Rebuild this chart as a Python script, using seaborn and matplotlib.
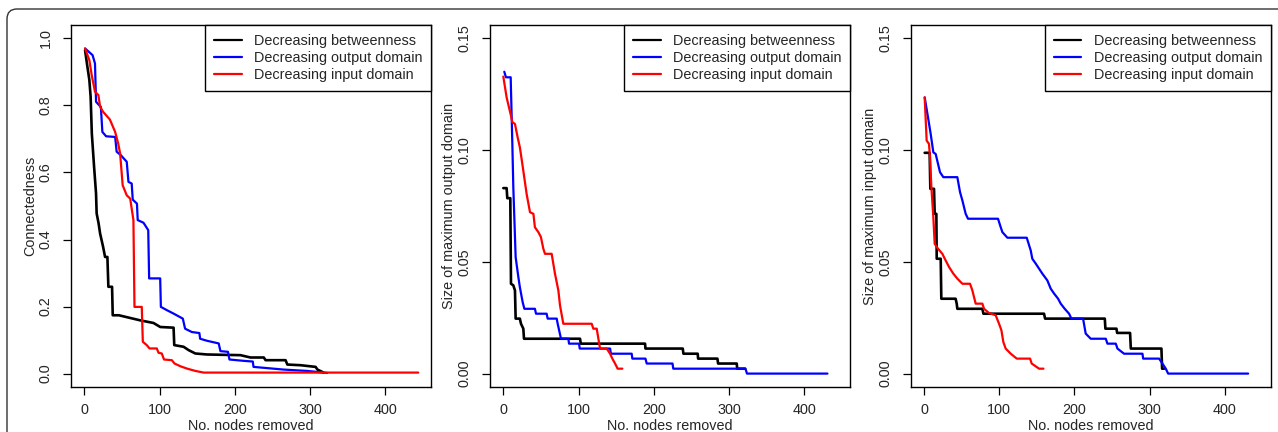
import pandas as pd
import seaborn as sns
import matplotlib.pyplot as plt
from matplotlib.lines import Line2D
from matplotlib.patches import FancyBboxPatch
from matplotlib.transforms import IdentityTransform

# series names and colours
series = ["Decreasing betweenness", "Decreasing output domain", "Decreasing input domain"]
colors = ["black", "blue", "red"]

# panel 1: connectedness
conn_btw_x = [1, 4, 6.7, 8.4, 10, 13, 15.6, 16.4, 19, 21, 25, 27.6, 30.7, 32, 36.9, 37.8, 46, 74, 92, 101,
              118.7, 119.6, 132, 138.7, 147.6, 163, 207.6, 221, 238.7, 241, 267.6, 270, 287.6, 307.6, 310,
              316.4, 318]
conn_btw_y = [0.965, 0.917, 0.876, 0.826, 0.716, 0.617, 0.537, 0.478, 0.448, 0.418, 0.378, 0.348, 0.348,
              0.259, 0.259, 0.174, 0.174, 0.159, 0.151, 0.139, 0.137, 0.085, 0.080, 0.070, 0.060, 0.057,
              0.055, 0.048, 0.048, 0.040, 0.040, 0.027, 0.025, 0.020, 0.012, 0.005, 0.003]
conn_out_x = [1, 11, 14.2, 15.6, 19.6, 22, 24, 29, 41, 43, 48.4, 56.4, 58.7, 63, 64.4, 70, 71, 78.7, 85,
              86.2, 100.9, 101.8, 110, 118.7, 131, 134, 143, 153, 154, 163, 178.7, 181, 191, 193, 212,
              224, 225, 265, 296, 323]
conn_out_y = [0.970, 0.950, 0.925, 0.811, 0.801, 0.796, 0.721, 0.708, 0.706, 0.662, 0.652, 0.632, 0.572,
              0.567, 0.519, 0.507, 0.458, 0.450, 0.428, 0.284, 0.284, 0.199, 0.189, 0.179, 0.164, 0.134,
              0.124, 0.121, 0.104, 0.098, 0.090, 0.067, 0.065, 0.042, 0.038, 0.036, 0.020, 0.012, 0.008,
              0.002]
conn_in_x = [1, 6.7, 9.8, 14.2, 18.7, 21, 25, 34, 41, 45, 47.6, 51, 56.4, 61, 65.3, 66.7, 76.4, 77.8, 83,
             86.7, 96.4, 98.7, 103, 106, 116.4, 120, 127.6, 136.4, 147.6, 158.7, 444]
conn_in_y = [0.970, 0.935, 0.891, 0.841, 0.831, 0.796, 0.781, 0.758, 0.721, 0.687, 0.657, 0.562, 0.532,
             0.522, 0.458, 0.199, 0.199, 0.095, 0.085, 0.075, 0.075, 0.062, 0.060, 0.042, 0.040, 0.030,
             0.022, 0.015, 0.008, 0.003, 0.003]

# panel 2: size of maximum output domain
outd_btw_x = [0, 4.4, 5.3, 9.3, 10.2, 13.3, 15.5, 16.4, 22, 23.5, 26.6, 27.5, 102, 103, 188.5, 189, 238.6,
              239.5, 258.5, 259, 284.7, 285.6, 310.4, 311, 321.5]
outd_btw_y = [0.0830, 0.0830, 0.0785, 0.0785, 0.0402, 0.0395, 0.0372, 0.0246, 0.0246, 0.0223, 0.0201,
              0.0156, 0.0156, 0.0134, 0.0134, 0.0112, 0.0112, 0.0089, 0.0089, 0.0067, 0.0067, 0.0045,
              0.0045, 0.0022, 0.0022]
outd_out_x = [1.3, 3.5, 9.8, 12, 13.3, 16.4, 20, 22, 25.7, 28, 42, 43.5, 57.6, 59, 71, 72.3, 76.7, 86.5,
              87.4, 100.7, 101.6, 142, 143, 170.7, 171.6, 189, 190.7, 225, 226, 322, 324, 431]
outd_out_y = [0.1351, 0.1326, 0.1326, 0.1028, 0.0834, 0.0521, 0.0432, 0.0387, 0.0320, 0.0290, 0.0290,
              0.0268, 0.0268, 0.0246, 0.0246, 0.0223, 0.0156, 0.0156, 0.0134, 0.0134, 0.0112, 0.0112,
              0.0089, 0.0089, 0.0067, 0.0067, 0.0045, 0.0045, 0.0022, 0.0022, 0.0, 0.0]
outd_in_x = [0, 4.4, 10.2, 12, 15.5, 19, 22, 25.3, 28.8, 31, 35.5, 40, 42, 46.6, 50, 53.2, 55.4, 64.3,
             68.7, 73.2, 75.4, 79.8, 117.5, 119.7, 124.2, 128.6, 137.5, 142, 145, 148.6, 152, 158.3]
outd_in_y = [0.1329, 0.1236, 0.1154, 0.1125, 0.1117, 0.1058, 0.1013, 0.0938, 0.0856, 0.0804, 0.0722,
             0.0715, 0.0655, 0.0633, 0.0611, 0.0559, 0.0536, 0.0536, 0.0447, 0.0372, 0.0305, 0.0223,
             0.0223, 0.0201, 0.0201, 0.0112, 0.0112, 0.0089, 0.0067, 0.0045, 0.0022, 0.0022]

# panel 3: size of maximum input domain
ind_btw_x = [0.9, 7.5, 8.4, 13.3, 14.2, 16.4, 16.9, 22.2, 23, 42, 43.5, 44.3, 77.6, 79, 159.6, 161, 240.4,
             241.2, 255.9, 256.8, 274, 275, 315.7, 316.6, 319.3]
ind_btw_y = [0.0988, 0.0988, 0.0827, 0.0827, 0.0715, 0.0715, 0.0514, 0.0514, 0.0335, 0.0335, 0.0313,
             0.0290, 0.0290, 0.0268, 0.0268, 0.0246, 0.0246, 0.0201, 0.0201, 0.0182, 0.0182, 0.0112,
             0.0112, 0.0022, 0.0022]
ind_out_x = [0.9, 5.3, 8.9, 12.4, 15.5, 18.6, 21.3, 25.7, 44.3, 47.9, 51, 55.4, 58.5, 98.4, 102, 104.2,
             110.9, 136.6, 141.9, 144, 148.6, 157.4, 164, 168.5, 173, 178.3, 181.8, 187.1, 192.9, 196,
             211.5, 215, 221.7, 241.7, 243.9, 255, 257.2, 266, 290.5, 291.4, 312.6, 317, 321.5, 324.6, 431]
ind_out_y = [0.1236, 0.1147, 0.1072, 0.0990, 0.0983, 0.0939, 0.0901, 0.0879, 0.0879, 0.0812, 0.0775,
             0.0715, 0.0693, 0.0693, 0.0655, 0.0633, 0.0608, 0.0608, 0.0551, 0.0514, 0.0492, 0.0447,
             0.0417, 0.0380, 0.0358, 0.0335, 0.0313, 0.0290, 0.0268, 0.0246, 0.0246, 0.0179, 0.0156,
             0.0156, 0.0134, 0.0134, 0.0112, 0.0089, 0.0089, 0.0067, 0.0067, 0.0045, 0.0022, 0.0, 0.0]
ind_in_x = [0.9, 3.5, 6.6, 8, 9.8, 12.4, 14.2, 18.6, 24.4, 28.8, 33.3, 39, 44.3, 51, 61.2, 64.3, 68.7,
            77.6, 79.8, 86.5, 95.3, 99.8, 102.9, 105.5, 108.6, 115.3, 123.3, 141, 143.2, 153, 158.8]
ind_in_y = [0.1236, 0.1043, 0.1028, 0.0968, 0.0834, 0.0700, 0.0581, 0.0559, 0.0536, 0.0506, 0.0477,
            0.0447, 0.0425, 0.0402, 0.0402, 0.0372, 0.0313, 0.0313, 0.0290, 0.0271, 0.0261, 0.0223,
            0.0194, 0.0141, 0.0112, 0.0089, 0.0067, 0.0067, 0.0045, 0.0022, 0.0022]

x_ticks = [0, 100, 200, 300, 400]
conn_ticks = [0.0, 0.2, 0.4, 0.6, 0.8, 1.0]
conn_tick_labels = ["0.0", "0.2", "0.4", "0.6", "0.8", "1.0"]
size_ticks = [0.0, 0.05, 0.10, 0.15]
size_tick_labels = ["0.00", "0.05", "0.10", "0.15"]

ylabels = ["Connectedness", "Size of maximum output domain", "Size of maximum input domain"]
xlabel = "No. nodes removed"

sns.set_style("white")
plt.rcParams["font.family"] = ["Liberation Sans", "DejaVu Sans"]


def make_df(xs, ys):
    parts = []
    for name, x, y in zip(series, xs, ys):
        parts.append(pd.DataFrame({"x": x, "y": y, "series": name}))
    return pd.concat(parts, ignore_index=True)


panels = [
    (make_df([conn_btw_x, conn_out_x, conn_in_x], [conn_btw_y, conn_out_y, conn_in_y]),
     (-0.04, 1.04), conn_ticks, conn_tick_labels),
    (make_df([outd_btw_x, outd_out_x, outd_in_x], [outd_btw_y, outd_out_y, outd_in_y]),
     (-0.006, 0.156), size_ticks, size_tick_labels),
    (make_df([ind_btw_x, ind_out_x, ind_in_x], [ind_btw_y, ind_out_y, ind_in_y]),
     (-0.006, 0.156), size_ticks, size_tick_labels),
]

W, H = 1278, 432
FS = 10.4
fig = plt.figure(figsize=(W / 100, H / 100), dpi=100)

# outer rounded frame
fig.add_artist(FancyBboxPatch((7, -40), 1320, H - 9 + 40, boxstyle="round,pad=0,rounding_size=10",
                              transform=IdentityTransform(), facecolor="none", edgecolor="#333333",
                              linewidth=1.0))

lefts = [71, 490, 910.7]
palette = dict(zip(series, colors))
for i, (df, ylim, yt, ytl) in enumerate(panels):
    ax = fig.add_axes([lefts[i] / W, (H - 387) / H, 360 / W, 362 / H])
    sns.lineplot(data=df, x="x", y="y", hue="series", palette=palette, sort=False,
                 estimator=None, legend=False, linewidth=1.6, ax=ax)
    ax.lines[0].set_linewidth(1.9)
    ax.set_xlim(-17.7, 461)
    ax.set_ylim(*ylim)
    ax.set_xticks(x_ticks)
    ax.set_xticklabels([str(t) for t in x_ticks])
    ax.set_yticks(yt)
    ax.set_yticklabels(ytl, rotation=90, va="center")
    ax.tick_params(direction="out", length=5.5, width=0.9, color="black", labelsize=FS,
                   pad=6, bottom=True, left=True)
    ax.tick_params(axis="y", pad=7.5)
    for s in ax.spines.values():
        s.set_color("black")
        s.set_linewidth(1.0)
    ax.set_xlabel(xlabel, fontsize=FS)
    ax.xaxis.label.set_va("center")
    ax.xaxis.set_label_coords(0.5, -(426 - 387) / 362)
    ax.set_ylabel(ylabels[i], fontsize=FS)
    ax.yaxis.label.set_va("center")
    ax.yaxis.set_label_coords(-41 / 360, 0.5)
    handles = [Line2D([], [], color=c, linewidth=1.6) for c in colors]
    leg = ax.legend(handles, series, loc="upper right", borderaxespad=0, frameon=True, fancybox=False,
                    edgecolor="black", framealpha=1, fontsize=FS, handlelength=1.9,
                    handletextpad=0.85, borderpad=0.6, labelspacing=0.22)
    leg.get_frame().set_linewidth(1.0)

fig.savefig("out.png", dpi=100)
